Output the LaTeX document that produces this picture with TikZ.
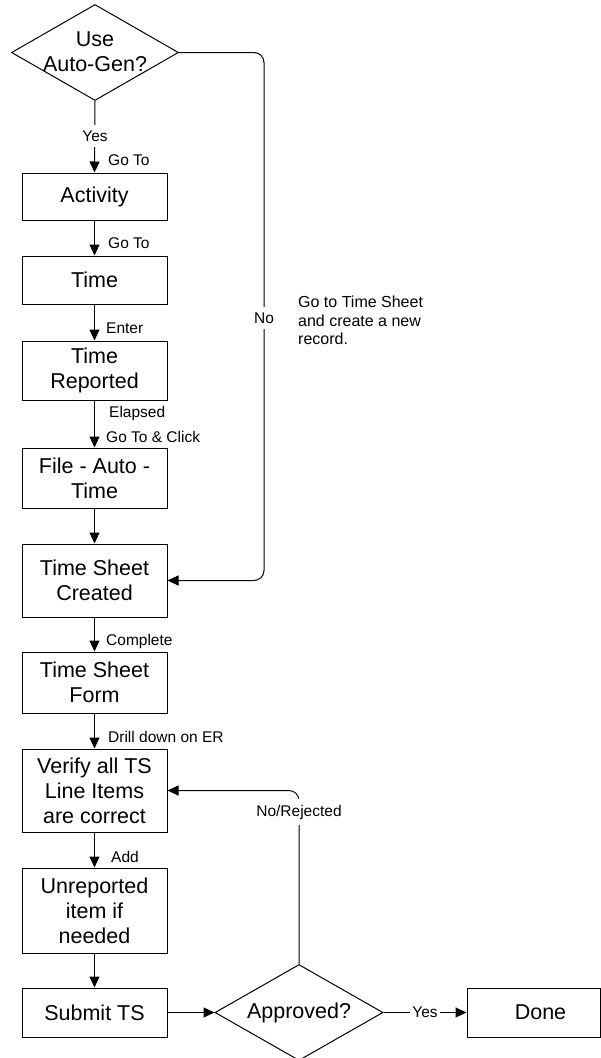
\documentclass[tikz,border=0pt]{standalone}
\usepackage{fontspec}
\setmainfont{Liberation Sans}
\usetikzlibrary{arrows.meta,shapes.geometric}
\begin{document}
\begin{tikzpicture}[x=1pt,y=-1pt,
  box/.style={draw, line width=1pt, minimum width=145pt, inner sep=0pt, align=center, font=\fontsize{21.5}{25}\selectfont},
  dia/.style={draw, line width=1pt, shape=diamond, inner sep=0pt, minimum width=167pt, minimum height=96pt},
  boxtext/.style={align=center, font=\fontsize{21.5}{25}\selectfont, inner sep=0pt},
  lbl/.style={font=\fontsize{15.5}{18}\selectfont, inner sep=0pt, anchor=west},
  clbl/.style={font=\fontsize{15.5}{18}\selectfont, fill=white, inner xsep=2pt, inner ysep=6pt},
  arr/.style={line width=1pt, -{Triangle[length=11pt,width=10pt]}}
]
\useasboundingbox (0,0) rectangle (601,1058);
% shapes
\node[dia] (d1) at (95,52.5) {};
\node[boxtext] (d1t) at (95,52) {Use\\Auto-Gen?};
\node[box, minimum height=47pt] (act) at (94.5,196.5) {Activity};
\node[box, minimum height=48pt] (time) at (94.5,280) {Time};
\node[box, minimum height=59pt] (trep) at (94.5,370.5) {Time\\Reported};
\node[box, minimum height=60pt] (fat) at (94.5,478) {File - Auto -\\Time};
\node[box, minimum height=73pt] (tsc) at (94.5,580.5) {Time Sheet\\Created};
\node[box, minimum height=61pt] (tsf) at (94.5,682.5) {Time Sheet\\Form};
\node[box, minimum height=83pt] (ver) at (94.5,790.5) {Verify all TS\\Line Items\\are correct};
\node[box, minimum height=85pt] (unr) at (94.5,910.5) {Unreported\\item if\\needed};
\node[box, minimum height=49pt] (sub) at (94.5,1012.5) {Submit TS};
\node[dia, minimum width=168pt] (d2) at (299,1012.5) {};
\node[boxtext] (d2t) at (299,1012.5) {Approved?};
\node[box, minimum width=133pt, minimum height=49pt] (done) at (533.5,1012.5) {\hspace*{14pt}Done};
% connectors
\draw[arr] (d1.south) -- (act.north);
\node[clbl] (y1) at (95,136) {Yes};
\node[lbl] (l1) at (108,160) {Go To};
\draw[arr] (act.south) -- (time.north);
\node[lbl] (l2) at (108,243) {Go To};
\draw[arr] (time.south) -- (trep.north);
\node[lbl] (l3) at (106,328) {Enter};
\draw[arr] (trep.south) -- (fat.north);
\node[lbl] (l4) at (109,413) {Elapsed};
\node[lbl] (l5) at (106,437) {Go To \& Click};
\draw[arr] (fat.south) -- (tsc.north);
\draw[arr] (tsc.south) -- (tsf.north);
\node[lbl] (l6) at (106,641) {Complete};
\draw[arr] (tsf.south) -- (ver.north);
\node[lbl] (l7) at (108,737) {Drill down on ER};
\draw[arr] (ver.south) -- (unr.north);
\node[lbl] (l8) at (111,857) {Add};
\draw[arr] (unr.south) -- (sub.north);
\draw[arr] (sub.east) -- (d2.west);
\draw[arr] (d2.east) -- node[clbl] (y2) {Yes} (done.west);
\coordinate (nox) at (264,0);
\draw[arr, rounded corners=10pt] (d1.east) -- (d1.east -| nox) -- (tsc.east -| nox) -- (tsc.east);
\node[clbl] (no1) at (264,318) {No};
\draw[arr, rounded corners=10pt] (d2.north) -- (ver.east -| d2.north) -- (ver.east);
\node[clbl] (rej) at (299,812) {No/Rejected};
\node[anchor=north west, align=left, font=\fontsize{16}{18.5}\selectfont, inner sep=0pt] (note) at (298,296) {Go to Time Sheet\\and create a new\\record.};
\end{tikzpicture}
\end{document}
